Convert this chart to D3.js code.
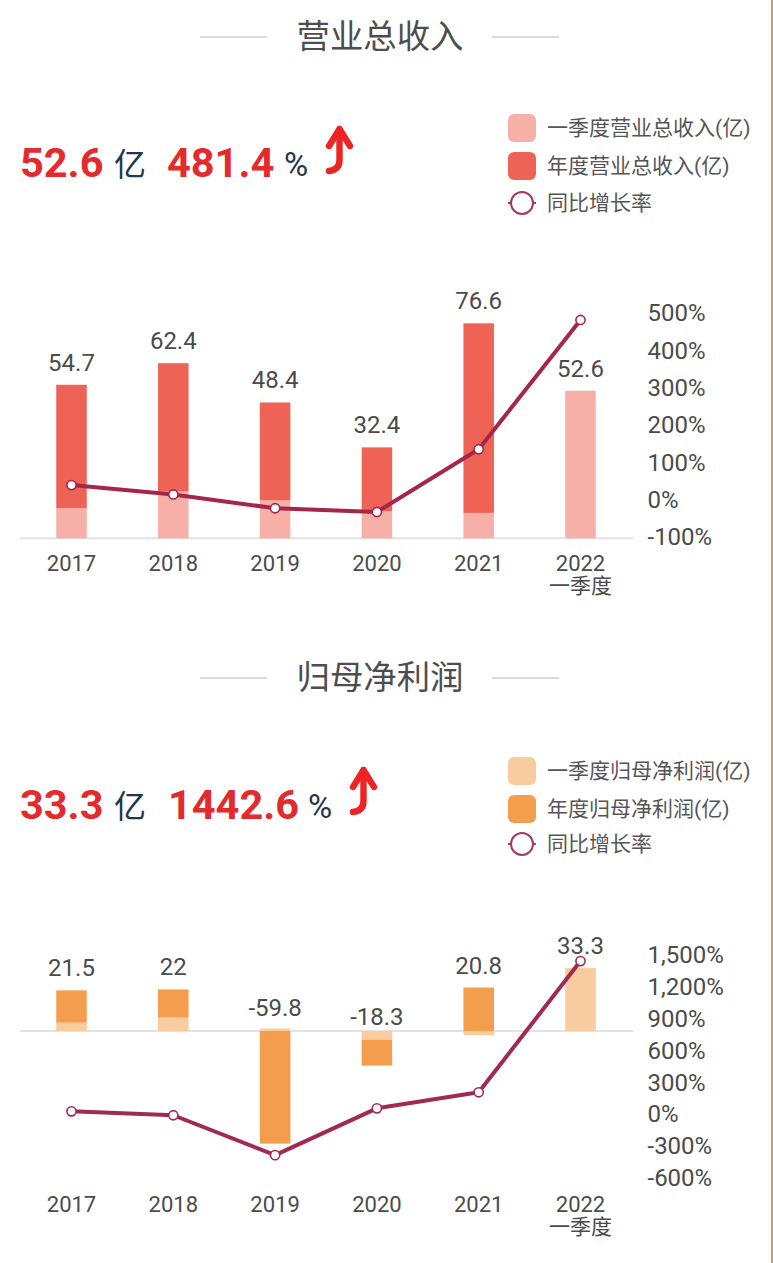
<!DOCTYPE html>
<html><head><meta charset="utf-8">
<script src="https://cdn.jsdelivr.net/npm/d3@7/dist/d3.min.js"></script>
<style>
html,body{margin:0;padding:0;background:#fff;overflow:hidden}
svg{display:block}
text{font-family:Roboto,"Noto Sans CJK SC",sans-serif}
</style></head><body>
<script>
const categories = ["2017","2018","2019","2020","2021","2022"];
const quarterTag = "一季度";

const revenueLabels = ["54.7","62.4","48.4","32.4","76.6","52.6"];
const revenueQ1 = [10.8,16.7,13.5,9.7,9.05,52.6];
const revenueRest = [43.9,45.7,34.9,22.7,67.55,0];
const revenueGrowth = [39,14,-23,-33,135,481.4];
const revenueTicks = [-100,0,100,200,300,400,500];

const profitLabels = ["21.5","22","-59.8","-18.3","20.8","33.3"];
const profitQ1 = [4.4,7.1,1.3,-4.6,-2.16,33.3];
const profitRest = [17.1,14.9,-59.6,-13.7,23,0];
const profitGrowth = [28,-9,-385,56,207,1442.6];
const profitTicks = [-600,-300,0,300,600,900,1200,1500];

const W=773,H=1263;
const svg=d3.select("body").append("svg").attr("width",W).attr("height",H);
const TXT="#4b4b4b", NAVY="#22364d", RED="#e32b2d", ARROW="#ec2524";
const FONT='Roboto,"Noto Sans CJK SC",sans-serif';

svg.append("rect").attr("x",771).attr("y",0).attr("width",2).attr("height",H).attr("fill","#c99d74");

const x=d3.scaleBand().domain(categories).range([20.6,631.4]).paddingInner(0.7).paddingOuter(0.35);

function panel(o){
  const g=svg.append("g");
  // heading
  g.append("text").attr("x",380).attr("y",o.titleY+12).attr("text-anchor","middle")
    .attr("font-size",33.4).attr("fill","#4d4d4d").text(o.title);
  [[200,267],[492,559]].forEach(([a,b])=>g.append("line").attr("x1",a).attr("x2",b)
    .attr("y1",o.titleY+1).attr("y2",o.titleY+1).attr("stroke","#cfcfcf").attr("stroke-width",1.5));

  // headline numbers
  const big=(xp,t)=>g.append("text").attr("x",xp).attr("y",o.headY).attr("font-size",41.5)
    .attr("font-weight",700).attr("fill",RED).text(t);
  big(20,o.headValue);
  g.append("text").attr("x",114).attr("y",o.headY-1).attr("font-size",32).attr("fill",NAVY).text("亿");
  big(o.pctX,o.headPct);
  g.append("text").attr("x",o.unitX).attr("y",o.headY-1).attr("font-size",33).attr("fill",NAVY).text("%");
  g.append("path").attr("transform",`translate(${o.arrowX},${o.arrowY})`)
    .attr("d","M-10.5,20 L0,3 L10.5,20 M0,3 L0,34 Q0,44 -10.5,45")
    .attr("fill","none").attr("stroke",ARROW).attr("stroke-width",6.4)
    .attr("stroke-linecap","round").attr("stroke-linejoin","round");

  // legend
  const lg=g.append("g");
  o.legend.forEach((t,i)=>{
    if(i<2) lg.append("rect").attr("x",508).attr("y",o.legendY[i]-14).attr("width",28).attr("height",28)
      .attr("rx",6).attr("fill",i==0?o.light:o.dark);
    lg.append("text").attr("x",547).attr("y",o.legendY[i]).attr("dy","0.31em")
      .attr("font-size",21).attr("fill","#555").text(t);
  });
  lg.append("line").attr("x1",508).attr("x2",536).attr("y1",o.legendY[2]).attr("y2",o.legendY[2])
    .attr("stroke","#a23a64").attr("stroke-width",2);
  lg.append("circle").attr("cx",522).attr("cy",o.legendY[2]).attr("r",11)
    .attr("fill","#fff").attr("stroke","#a23a64").attr("stroke-width",2);

  // scales
  const yBar=d3.scaleLinear().domain(o.barDomain).range(o.barRange);
  const yLine=d3.scaleLinear().domain(o.lineDomain).range(o.lineRange);

  // baseline
  g.append("line").attr("x1",20).attr("x2",633).attr("y1",yBar(0)).attr("y2",yBar(0))
    .attr("stroke","#e2e2e5").attr("stroke-width",2);

  // stacked bars
  const rows=categories.map((c,i)=>({c,q1:o.q1[i],rest:o.rest[i]}));
  const series=d3.stack().keys(["q1","rest"]).offset(d3.stackOffsetDiverging)(rows);
  g.append("g").selectAll("g").data(series).join("g")
    .attr("fill",d=>d.key=="q1"?o.light:o.dark)
    .selectAll("rect").data(d=>d).join("rect")
    .attr("x",d=>x(d.data.c)).attr("width",x.bandwidth())
    .attr("y",d=>yBar(Math.max(d[0],d[1])))
    .attr("height",d=>Math.abs(yBar(d[0])-yBar(d[1])));

  // value labels
  const stackTop=i=>d3.max(series,s=>Math.max(s[i][0],s[i][1]));
  g.append("g").selectAll("text").data(rows).join("text")
    .attr("x",d=>x(d.c)+x.bandwidth()/2)
    .attr("y",(d,i)=>yBar(stackTop(i))-14+(o.labelNudge[i]||0))
    .attr("text-anchor","middle").attr("font-size",24).attr("fill",TXT)
    .text((d,i)=>o.labels[i]);

  // growth line
  const lineGen=d3.line().x((d,i)=>x(categories[i])+x.bandwidth()/2).y(d=>yLine(d));
  g.append("path").attr("d",lineGen(o.growth)).attr("fill","none")
    .attr("stroke",o.lineColor).attr("stroke-width",4).attr("stroke-linejoin","round");
  g.append("g").selectAll("circle").data(o.growth).join("circle")
    .attr("cx",(d,i)=>x(categories[i])+x.bandwidth()/2).attr("cy",d=>yLine(d)).attr("r",4.6)
    .attr("fill","#fff").attr("stroke",o.lineColor).attr("stroke-width",1.6);

  // right axis
  const ra=g.append("g").attr("transform","translate(647.5,0)")
    .call(d3.axisRight(yLine).tickValues(o.ticks).tickSize(0).tickPadding(0)
      .tickFormat(d=>d3.format(",")(Math.abs(d)).replace(/^/,d<0?"-":"")+"%"));
  ra.select(".domain").remove();
  ra.selectAll("text").attr("font-size",24).attr("fill",TXT).attr("font-family",FONT);

  // bottom axis
  const ba=g.append("g").attr("transform",`translate(0,${o.axisY})`)
    .call(d3.axisBottom(x).tickSize(0).tickPadding(0));
  ba.select(".domain").remove();
  ba.selectAll("text").attr("font-size",22).attr("fill",TXT).attr("dy",0).attr("y",0).attr("font-family",FONT);
  g.append("text").attr("x",x(categories[5])+x.bandwidth()/2).attr("y",o.axisY+21.5)
    .attr("text-anchor","middle").attr("font-size",21).attr("fill",TXT).text(quarterTag);
}

panel({
  title:"营业总收入",titleY:36,headY:176.5,headValue:"52.6",headPct:"481.4",pctX:167,unitX:284,arrowX:339.5,arrowY:126,
  legend:["一季度营业总收入(亿)","年度营业总收入(亿)","同比增长率"],legendY:[128,166,203],
  light:"#f7b0a8",dark:"#ef6357",lineColor:"#a6264a",
  barDomain:[0,80],barRange:[538.3,313.8],lineDomain:[-100,500],lineRange:[537,313],
  q1:revenueQ1,rest:revenueRest,labels:revenueLabels,growth:revenueGrowth,ticks:revenueTicks,labelNudge:[],axisY:571
});
panel({
  title:"归母净利润",titleY:677,headY:818.5,headValue:"33.3",headPct:"1442.6",pctX:168,unitX:308,arrowX:363.5,arrowY:767,
  legend:["一季度归母净利润(亿)","年度归母净利润(亿)","同比增长率"],legendY:[771,809,844],
  light:"#f9cc9f",dark:"#f49d4c",lineColor:"#a02a50",
  barDomain:[-60,35],barRange:[1144.4,964.85],lineDomain:[-600,1500],lineRange:[1178,955],
  q1:profitQ1,rest:profitRest,labels:profitLabels,growth:profitGrowth,ticks:profitTicks,labelNudge:[0,0,1,8,0,0],axisY:1212
});
</script></body></html>
